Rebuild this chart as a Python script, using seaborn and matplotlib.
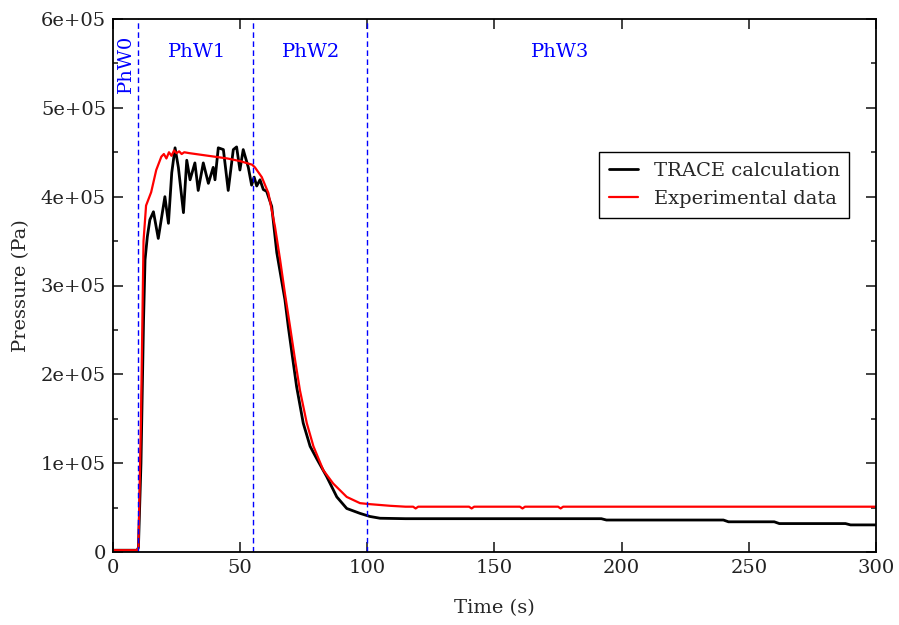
import pandas as pd
import matplotlib.pyplot as plt
import numpy as np
import seaborn as sns
from matplotlib.ticker import FuncFormatter, MultipleLocator

# TRACE calculation (time s, pressure Pa)
trace_time = [0, 9.5, 10, 11, 12, 12.6, 13.5, 14.5, 15.9, 17.8, 20.4, 21.8, 23.1, 24.4, 25.7,
              27.7, 29, 30.3, 32.2, 33.5, 35.5, 37.5, 39.4, 40.1, 41.4, 43.4, 45.3, 47.3,
              48.6, 49.9, 51.2, 53.2, 54.5, 55.5, 56.5, 57.8, 59.1, 60.4, 62.4, 64.4, 67.6,
              68.9, 70.3, 72.2, 74.8, 77.5, 80.1, 84, 88, 91.9, 97.1, 101, 105, 115, 150,
              192, 194, 240, 242, 260, 262, 288, 290, 300]
trace_p = [2000, 2000, 5000, 100000, 260000, 329000, 355000, 374000, 383000, 353000, 400000,
           370000, 427000, 455000, 433000, 382000, 441000, 419000, 438000, 407000, 438000,
           415000, 433000, 419000, 455000, 453000, 407000, 453000, 456000, 430000, 453000,
           433000, 413000, 422000, 412000, 419000, 408000, 406000, 389000, 337000, 284000,
           254000, 225000, 186000, 145000, 119000, 105000, 85000, 62000, 49000, 43500,
           40000, 38000, 37500, 37500, 37500, 36000, 36000, 34000, 34000, 32000, 32000,
           30500, 30500]

# Experimental data (time s, pressure Pa)
exp_time = [0, 9.5, 10, 11, 12, 13, 15, 17, 19, 20, 21, 22, 23, 24, 25, 26, 27, 28, 30,
            35, 40, 45, 50, 54.7, 55.8, 58.5, 61.1, 63.7, 65.7, 67.6, 69.6, 71.6, 73.5,
            76.2, 78.8, 82.7, 86.6, 91.9, 97.1, 100.4, 109, 115, 118, 119, 120, 140, 141,
            142, 160, 161, 162, 175, 176, 177, 200, 300]
exp_p = [2000, 2000, 5000, 150000, 350000, 390000, 405000, 430000, 445000, 448000, 443000,
         450000, 446000, 452000, 449000, 451000, 448000, 450000, 449000, 447000, 445000,
         443000, 440000, 436000, 433000, 422000, 404000, 366000, 329000, 291000, 254000,
         216000, 182000, 145000, 119000, 92000, 77000, 62000, 55000, 54000, 52000, 51000,
         51000, 49000, 51000, 51000, 49000, 51000, 51000, 49000, 51000, 51000, 49000,
         51000, 51000, 51000]

phase_bounds = [10, 55, 100]
phase_labels = ['PhW1', 'PhW2', 'PhW3']
phase_label_x = [33, 78, 176]

trace_df = pd.DataFrame({'Time': trace_time, 'Pressure': trace_p})
exp_df = pd.DataFrame({'Time': exp_time, 'Pressure': exp_p})

sns.set_style('ticks')
plt.rcParams['font.family'] = ['DejaVu Serif']

fig, ax = plt.subplots(figsize=(8.99, 6.25), dpi=100)
fig.subplots_adjust(left=0.1257, right=0.9744, top=0.9696, bottom=0.1168)

sns.lineplot(data=trace_df, x='Time', y='Pressure', color='black', linewidth=2.0,
             label='TRACE calculation', ax=ax)
sns.lineplot(data=exp_df, x='Time', y='Pressure', color='red', linewidth=1.6,
             label='Experimental data', ax=ax)

for b in phase_bounds:
    ax.axvline(b, color='blue', linestyle='--', linewidth=1.0, dashes=(4, 2.5))

for lab, xp in zip(phase_labels, phase_label_x):
    ax.text(xp, 5.63e5, lab, color='blue', fontsize=14, ha='center', va='center')
ax.text(5, 5.5e5, 'PhW0', color='blue', fontsize=14, ha='center', va='center', rotation=90)

ax.set_xlim(0, 300)
ax.set_ylim(0, 6e5)
ax.xaxis.set_major_locator(MultipleLocator(50))
ax.yaxis.set_major_locator(MultipleLocator(1e5))
ax.yaxis.set_minor_locator(MultipleLocator(5e4))
ax.yaxis.set_major_formatter(FuncFormatter(lambda v, p: '0' if v == 0 else f'{v:.0e}'))
ax.tick_params(which='major', direction='in', length=7, width=1.2, top=True, right=True,
               labelsize=14, colors='#222222', pad=5)
ax.tick_params(which='minor', direction='in', length=3.5, width=1.2, top=True, right=True)
for s in ax.spines.values():
    s.set_linewidth(1.3)
    s.set_color('black')

ax.set_xlabel('Time (s)', fontsize=14, labelpad=16)
ax.set_ylabel('Pressure (Pa)', fontsize=14, labelpad=8)

leg = ax.legend(loc='upper right', bbox_to_anchor=(0.978, 0.768), fontsize=14,
                fancybox=False, edgecolor='black', framealpha=1, handlelength=1.5,
                borderpad=0.5)
leg.get_frame().set_linewidth(1.0)

plt.savefig('out.png', dpi=100)
